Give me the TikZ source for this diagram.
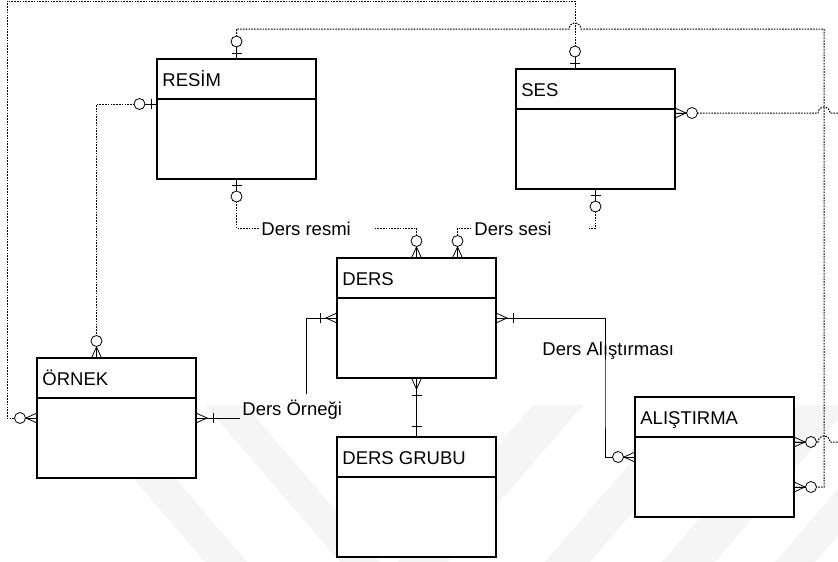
\documentclass[tikz,border=0pt]{standalone}
\usepackage{fontspec}
\setmainfont{Liberation Sans}
\usetikzlibrary{positioning}

\tikzset{
  zmany/.pic={\draw (0,5)--(11,0)--(0,-5); \draw (0,0)--(11.5,0);
              \draw[fill=white] (17,0) circle (5.5);},
  omany/.pic={\draw (0,5)--(11,0)--(0,-5); \draw (0,0)--(17,0);
              \draw (17,-5)--(17,5);},
  zone/.pic={\draw (0,0)--(12,0); \draw (6,-5)--(6,5);
             \draw[fill=white] (17.5,0) circle (5.5);},
  onebar/.pic={\draw (0,0)--(11,0); \draw (11,-5)--(11,5);}
}

\begin{document}
\begin{tikzpicture}[x=1pt,y=1pt,line width=0.8pt,font=\fontsize{18.5}{22}\selectfont,
    node distance=59pt,
    entity/.style={draw,fill=white,line width=1.1pt,minimum width=159pt,minimum height=120pt,
                   inner sep=0pt,outer sep=0pt,anchor=north west},
    title/.style={anchor=base west,inner sep=0pt},
    lbl/.style={anchor=base west,inner sep=2pt},
    rel/.style={line width=1pt,dash pattern=on 1.6pt off 1.2pt},
    wmark/.style={fill=black!4,draw=none}]

    \useasboundingbox (0,0) rectangle (838,-562);
    \clip (0,0) rectangle (838,-562);

    % faint watermark bands
    \fill[wmark] (205,-405) -- (245,-405) -- (380,-562) -- (340,-562) -- cycle;
    \fill[wmark] (133,-478) -- (175,-478) -- (247,-562) -- (205,-562) -- cycle;
    \fill[wmark] (533,-405) -- (583,-405) -- (448,-562) -- (398,-562) -- cycle;
    \fill[wmark] (667,-420) -- (712,-420) -- (590,-562) -- (545,-562) -- cycle;
    \fill[wmark] (797,-405) -- (850,-405) -- (715,-562) -- (662,-562) -- cycle;
    \fill[wmark] (775,-562) -- (815,-562) -- (890,-475) -- (850,-475) -- cycle;

    % entities
    \node[entity] (resim) at (157,-59) {};
    \node[entity] (ses) at (516,-69) {};
    \node[entity] (ders) at (337,-258) {};
    \node[entity] (grubu) [below=of ders] {};
    \node[entity] (ornek) at (37,-358) {};
    \node[entity] (alistirma) at (635,-397) {};

    \foreach \e/\t in {resim/RESİM,ses/SES,ders/DERS,grubu/DERS GRUBU,ornek/ÖRNEK,alistirma/ALIŞTIRMA}{
      \draw[line width=1.1pt] ([yshift=-40pt]\e.north west) -- ([yshift=-40pt]\e.north east);
      \node[title] (\e-t) at ([xshift=5pt,yshift=-27pt]\e.north west) {\t};
    }

    % relationship labels
    \node[lbl] (resmi) at (259,-235) {Ders resmi};
    \node[lbl] (sesi) at (472,-235) {Ders sesi};
    \node[lbl] (ornegi) at (240,-415) {Ders Örneği};
    \node[lbl] (alis) at (540,-355) {Ders Alıştırması};

    % attachment points
    \coordinate (sesT) at ([xshift=-20.5pt]ses.north);
    \coordinate (sesR) at ([yshift=-44pt]ses.north east);
    \coordinate (resimL) at ([yshift=-45pt]resim.north west);
    \coordinate (dersTL) at (ders.north);
    \coordinate (dersTR) at ([xshift=41pt]ders.north);
    \coordinate (ornekT) at ([xshift=-20pt]ornek.north);
    \coordinate (alisR1) at ([yshift=15pt]alistirma.east);
    \coordinate (alisR2) at ([yshift=-30pt]alistirma.east);
    \coordinate (cornerR) at (824,-29);
    \coordinate (topL) at (7,-1);
    \coordinate (offR) at (860,-113);
    \coordinate (ornegiTop) at (306,-394);
    \coordinate (alisV) at (605,-400);

    % connectors
    \draw[rel] (resim.south) |- (resmi.west);
    \draw[rel] (dersTL) |- ([xshift=22pt]resmi.east);
    \draw[rel] (dersTR) |- (sesi.west);
    \draw[rel] (ses.south) |- ([xshift=35pt]sesi.east);
    \draw[rel] (resimL) -| (ornekT);
    \draw[rel] (sesT) |- (topL) |- (ornek.west);
    \draw[rel] (resim.north) |- ([xshift=-6pt]sesT |- cornerR)
        arc[start angle=180,end angle=0,radius=6] -- (cornerR) |- (alisR2);
    \draw[rel] (sesR) -- ([xshift=-6pt]cornerR |- sesR)
        arc[start angle=180,end angle=0,radius=6] -- (offR)
        |- ([xshift=6pt]cornerR |- alisR1)
        arc[start angle=0,end angle=180,radius=6] -- (alisR1);
    \draw (ornek.east) -- (ornegi.base west |- ornek.east);
    \draw (ornegiTop) |- (ders.west);
    \draw (ders.east) -| (alisV) |- (alistirma.west);
    \draw (ders.south) -- (grubu.north);

    % cardinality marks
    \pic[rotate=90] at (resim.north) {zone};
    \pic[rotate=180] at (resimL) {zone};
    \pic[rotate=-90] at (resim.south) {zone};
    \pic[rotate=90] at (sesT) {zone};
    \pic[rotate=-90] at (ses.south) {zone};
    \pic at (sesR) {zmany};
    \pic[rotate=90] at (dersTL) {zmany};
    \pic[rotate=90] at (dersTR) {zmany};
    \pic[rotate=180] at (ders.west) {omany};
    \pic at (ders.east) {omany};
    \pic[rotate=-90] at (ders.south) {omany};
    \pic[rotate=90] at (grubu.north) {onebar};
    \pic[rotate=90] at (ornekT) {zmany};
    \pic[rotate=180] at (ornek.west) {zmany};
    \pic at (ornek.east) {omany};
    \pic[rotate=180] at (alistirma.west) {zmany};
    \pic at (alisR1) {zmany};
    \pic at (alisR2) {zmany};
\end{tikzpicture}
\end{document}
